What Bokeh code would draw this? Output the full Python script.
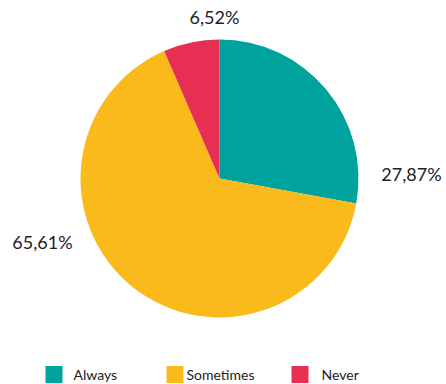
import numpy as np
from bokeh.plotting import figure
from bokeh.models import Range1d, ColumnDataSource
from bokeh.core.properties import value
from bokeh.embed import file_html
from bokeh.resources import INLINE

categories = ["Always", "Sometimes", "Never"]
shares = [27.87, 65.61, 6.52]
labels = ["27,87%", "65,61%", "6,52%"]
colors = ["#00A29E", "#FBBA1C", "#E72E53"]

W, H = 446, 384
p = figure(width=W, height=H, output_backend="svg", toolbar_location=None,
           x_range=Range1d(0, W), y_range=Range1d(H, 0),
           min_border=0, outline_line_color=None)
p.axis.visible = False
p.grid.visible = False
p.background_fill_color = "white"
p.border_fill_color = "white"

cx, cy, r = 219, 178, 139
fr = np.array(shares) / sum(shares)
cum = np.concatenate([[0], np.cumsum(fr)])
# clockwise from top
start = np.pi / 2 - 2 * np.pi * cum[1:]
end = np.pi / 2 - 2 * np.pi * cum[:-1]
src = ColumnDataSource(dict(start=start, end=end, color=colors))
p.wedge(x=cx, y=cy, radius=r, start_angle="start", end_angle="end",
        fill_color="color", line_color=None, source=src)

lab_x = [411, 42, 214]
lab_y = [173, 241, 16]
p.text(x=lab_x, y=lab_y, text=labels, text_align="center", text_baseline="middle",
       text_font=value("Lato"), text_font_size="18px", text_color="#222222")

sq_x = [45, 166, 291]
txt_x = [73, 186, 321]
leg_y = 374
p.rect(x=[x + 8.5 for x in sq_x], y=leg_y, width=17, height=17,
       fill_color=colors, line_color=None)
p.text(x=txt_x, y=leg_y, text=categories, text_align="left",
       text_baseline="middle", text_font=value("Lato"), text_font_size="14px",
       text_color="#222222")

open("out.html", "w").write(file_html(p, INLINE))
